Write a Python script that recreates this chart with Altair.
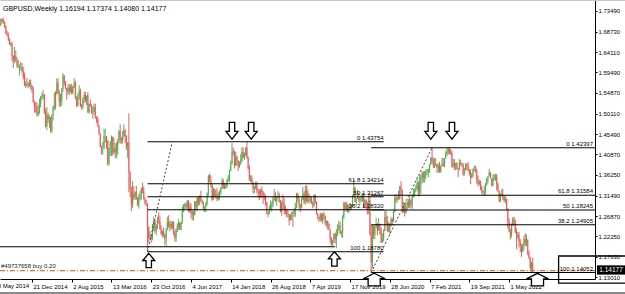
import altair as alt
import pandas as pd

FONT = "Liberation Sans"

# ---------------- weekly GBPUSD candles (close / high / low), weeks starting Sunday ----------------
START = "2014-06-15"
FIRST_OPEN = 1.6970

c2014 = [1.7015, 1.7035, 1.7155, 1.7105, 1.7090, 1.6980, 1.6830, 1.6795, 1.6700, 1.6590, 1.6595, 1.6320, 1.6240, 1.6315, 1.6225, 1.6085, 1.6085, 1.6085, 1.6085, 1.5995, 1.5845, 1.5650, 1.5680, 1.5640, 1.5670, 1.5705, 1.5655, 1.5560, 1.5275]
h2014 = [1.7060, 1.7065, 1.7180, 1.7170, 1.7190, 1.7110, 1.7015, 1.6890, 1.6855, 1.6720, 1.6640, 1.6645, 1.6340, 1.6525, 1.6450, 1.6290, 1.6225, 1.6130, 1.6180, 1.6160, 1.6070, 1.5945, 1.5750, 1.5825, 1.5730, 1.5785, 1.5785, 1.5660, 1.5620]
l2014 = [1.6925, 1.6955, 1.7005, 1.7075, 1.7050, 1.6960, 1.6815, 1.6770, 1.6660, 1.6570, 1.6535, 1.6200, 1.6050, 1.6160, 1.6190, 1.6050, 1.6040, 1.5875, 1.5990, 1.5940, 1.5790, 1.5640, 1.5590, 1.5625, 1.5590, 1.5620, 1.5565, 1.5485, 1.5265]

c2015 = [1.5170, 1.5160, 1.4985, 1.5060, 1.5240, 1.5390, 1.5395, 1.5440, 1.5030, 1.4730, 1.4995, 1.4885, 1.4930, 1.4630, 1.4990, 1.5175, 1.5155, 1.5465, 1.5715, 1.5475, 1.5285, 1.5315, 1.5575, 1.5880, 1.5740, 1.5585, 1.5510, 1.5600, 1.5515, 1.5615, 1.5485, 1.5640, 1.5700, 1.5380, 1.5185, 1.5425, 1.5535, 1.5195, 1.5180, 1.5345, 1.5435, 1.5305, 1.5425, 1.5045, 1.5225, 1.5185, 1.5045, 1.5075, 1.5160, 1.4915, 1.4890, 1.4735]
h2015 = [1.5305, 1.5270, 1.5270, 1.5205, 1.5350, 1.5415, 1.5485, 1.5550, 1.5450, 1.5130, 1.5165, 1.5035, 1.4975, 1.4935, 1.4995, 1.5195, 1.5495, 1.5525, 1.5815, 1.5815, 1.5540, 1.5465, 1.5595, 1.5930, 1.5885, 1.5755, 1.5595, 1.5675, 1.5690, 1.5675, 1.5690, 1.5640, 1.5820, 1.5755, 1.5405, 1.5475, 1.5660, 1.5580, 1.5235, 1.5385, 1.5510, 1.5510, 1.5425, 1.5505, 1.5245, 1.5335, 1.5225, 1.5175, 1.5240, 1.5240, 1.4955, 1.4945]
l2015 = [1.5035, 1.5035, 1.4950, 1.4950, 1.5005, 1.5155, 1.5325, 1.5340, 1.5005, 1.4700, 1.4635, 1.4800, 1.4690, 1.4585, 1.4566, 1.4855, 1.5090, 1.5105, 1.5450, 1.5455, 1.5170, 1.5170, 1.5190, 1.5510, 1.5655, 1.5565, 1.5330, 1.5435, 1.5435, 1.5485, 1.5445, 1.5455, 1.5590, 1.5335, 1.5160, 1.5175, 1.5330, 1.5160, 1.5105, 1.5110, 1.5250, 1.5275, 1.5205, 1.5025, 1.5015, 1.5175, 1.5005, 1.4895, 1.4995, 1.4895, 1.4805, 1.4710]

c2016 = [1.4560, 1.4255, 1.4235, 1.4245, 1.4500, 1.4500, 1.4405, 1.3875, 1.4225, 1.4375, 1.4490, 1.4130, 1.4225, 1.4145, 1.4205, 1.4395, 1.4615, 1.4445, 1.4415, 1.4490, 1.4635, 1.4515, 1.4255, 1.4350, 1.3680, 1.3300, 1.2950, 1.3190, 1.3110, 1.3235, 1.3115, 1.2945, 1.3075, 1.3160, 1.3310, 1.3270, 1.3065, 1.2975, 1.2970, 1.2430, 1.2190, 1.2225, 1.2190, 1.2480, 1.2590, 1.2355, 1.2480, 1.2585, 1.2570, 1.2395, 1.2280, 1.2340]
h2016 = [1.4745, 1.4560, 1.4285, 1.4370, 1.4670, 1.4670, 1.4470, 1.4410, 1.4235, 1.4395, 1.4515, 1.4460, 1.4460, 1.4345, 1.4355, 1.4440, 1.4640, 1.4770, 1.4475, 1.4620, 1.4770, 1.4665, 1.4520, 1.4365, 1.5020, 1.3705, 1.3350, 1.3480, 1.3370, 1.3250, 1.3370, 1.3115, 1.3185, 1.3260, 1.3335, 1.3445, 1.3355, 1.3115, 1.3055, 1.2975, 1.2455, 1.2345, 1.2255, 1.2510, 1.2675, 1.2590, 1.2500, 1.2675, 1.2775, 1.2705, 1.2475, 1.2365]
l2016 = [1.4530, 1.4250, 1.4080, 1.4090, 1.4195, 1.4350, 1.4210, 1.3835, 1.3836, 1.4055, 1.4050, 1.4060, 1.4100, 1.4005, 1.4000, 1.4070, 1.4340, 1.4330, 1.4330, 1.4335, 1.4485, 1.4355, 1.4185, 1.4010, 1.3230, 1.3120, 1.2800, 1.2870, 1.3055, 1.3055, 1.3055, 1.2910, 1.2855, 1.3055, 1.3055, 1.3205, 1.3060, 1.2945, 1.2915, 1.1878, 1.2085, 1.2165, 1.2080, 1.2135, 1.2350, 1.2305, 1.2250, 1.2390, 1.2515, 1.2375, 1.2250, 1.2200]

c2017 = [1.2265, 1.2180, 1.2370, 1.2550, 1.2475, 1.2505, 1.2415, 1.2550, 1.2280, 1.2195, 1.2395, 1.2470, 1.2545, 1.2385, 1.2555, 1.2810, 1.2950, 1.2960, 1.2885, 1.3030, 1.2805, 1.2885, 1.2745, 1.2780, 1.2715, 1.3025, 1.2885, 1.3095, 1.2995, 1.3135, 1.3040, 1.3010, 1.2875, 1.2905, 1.2970, 1.3200, 1.3605, 1.3490, 1.3400, 1.3060, 1.3285, 1.3195, 1.3130, 1.3075, 1.3190, 1.3230, 1.3320, 1.3480, 1.3375, 1.3330, 1.3370, 1.3505]
h2017 = [1.2430, 1.2280, 1.2415, 1.2675, 1.2705, 1.2580, 1.2580, 1.2570, 1.2570, 1.2350, 1.2405, 1.2520, 1.2615, 1.2545, 1.2560, 1.2905, 1.2960, 1.2990, 1.2990, 1.3050, 1.3050, 1.2975, 1.2980, 1.2815, 1.2815, 1.3030, 1.3030, 1.3125, 1.3125, 1.3160, 1.3265, 1.3060, 1.3010, 1.2910, 1.3005, 1.3225, 1.3620, 1.3655, 1.3610, 1.3405, 1.3340, 1.3310, 1.3285, 1.3320, 1.3225, 1.3270, 1.3345, 1.3550, 1.3530, 1.3445, 1.3415, 1.3525]
l2017 = [1.2200, 1.2035, 1.1986, 1.2385, 1.2420, 1.2345, 1.2385, 1.2385, 1.2255, 1.2110, 1.2105, 1.2325, 1.2375, 1.2365, 1.2370, 1.2510, 1.2780, 1.2840, 1.2845, 1.2845, 1.2775, 1.2765, 1.2635, 1.2590, 1.2590, 1.2700, 1.2810, 1.2810, 1.2930, 1.2930, 1.3010, 1.2955, 1.2810, 1.2775, 1.2775, 1.2925, 1.3145, 1.3455, 1.3340, 1.3025, 1.3060, 1.3125, 1.3080, 1.3025, 1.3040, 1.3060, 1.3165, 1.3300, 1.3300, 1.3300, 1.3300, 1.3335]

c2018 = [1.3565, 1.3725, 1.3865, 1.4155, 1.4130, 1.3825, 1.4030, 1.3955, 1.3810, 1.3860, 1.3940, 1.4140, 1.4010, 1.4090, 1.4240, 1.4010, 1.3770, 1.3530, 1.3545, 1.3460, 1.3310, 1.3350, 1.3415, 1.3270, 1.3265, 1.3195, 1.3285, 1.3235, 1.3140, 1.3110, 1.3005, 1.2765, 1.2735, 1.2835, 1.2880, 1.2955, 1.3070, 1.3080, 1.3035, 1.3125, 1.3155, 1.3005, 1.2795, 1.2995, 1.2970, 1.2835, 1.2800, 1.2745, 1.2735, 1.2585, 1.2715, 1.2755]
h2018 = [1.3615, 1.3745, 1.3945, 1.4345, 1.4240, 1.4170, 1.4145, 1.4065, 1.3930, 1.3930, 1.4090, 1.4245, 1.4245, 1.4130, 1.4255, 1.4377, 1.4040, 1.3840, 1.3620, 1.3610, 1.3455, 1.3365, 1.3470, 1.3470, 1.3315, 1.3290, 1.3300, 1.3365, 1.3260, 1.3215, 1.3170, 1.3005, 1.2780, 1.2930, 1.3045, 1.3000, 1.3145, 1.3300, 1.3225, 1.3135, 1.3255, 1.3215, 1.3055, 1.3040, 1.3175, 1.3090, 1.2925, 1.2845, 1.2840, 1.2670, 1.2725, 1.2785]
l2018 = [1.3465, 1.3460, 1.3705, 1.3860, 1.4065, 1.3765, 1.3825, 1.3840, 1.3710, 1.3785, 1.3860, 1.3920, 1.4000, 1.3960, 1.4050, 1.3990, 1.3740, 1.3485, 1.3460, 1.3405, 1.3205, 1.3205, 1.3295, 1.3205, 1.3100, 1.3050, 1.3100, 1.3100, 1.2960, 1.3045, 1.2920, 1.2730, 1.2662, 1.2725, 1.2830, 1.2785, 1.2900, 1.3040, 1.3005, 1.2920, 1.3090, 1.3000, 1.2770, 1.2695, 1.2830, 1.2725, 1.2720, 1.2660, 1.2660, 1.2475, 1.2595, 1.2600]

c2019 = [1.2740, 1.2840, 1.2880, 1.3195, 1.3075, 1.2940, 1.2885, 1.3050, 1.3195, 1.3010, 1.3265, 1.3210, 1.3030, 1.3055, 1.3090, 1.2970, 1.2925, 1.3175, 1.3005, 1.2725, 1.2670, 1.2625, 1.2730, 1.2585, 1.2735, 1.2695, 1.2535, 1.2575, 1.2500, 1.2375, 1.2165, 1.2030, 1.2140, 1.2285, 1.2160, 1.2290, 1.2435, 1.2465, 1.2290, 1.2330, 1.2670, 1.2985, 1.2835, 1.2935, 1.2770, 1.2900, 1.2830, 1.2935, 1.3150, 1.3330, 1.3010, 1.3075, 1.3090]
h2019 = [1.2795, 1.2865, 1.2990, 1.3215, 1.3215, 1.3135, 1.2960, 1.3110, 1.3350, 1.3245, 1.3380, 1.3385, 1.3285, 1.3200, 1.3155, 1.3120, 1.3020, 1.3175, 1.3175, 1.3020, 1.2755, 1.2660, 1.2765, 1.2760, 1.2750, 1.2785, 1.2700, 1.2590, 1.2580, 1.2525, 1.2385, 1.2210, 1.2155, 1.2295, 1.2310, 1.2385, 1.2500, 1.2585, 1.2560, 1.2355, 1.2710, 1.3015, 1.3010, 1.3010, 1.2975, 1.2930, 1.2985, 1.2950, 1.3175, 1.3515, 1.3350, 1.3085, 1.3285]
l2019 = [1.2440, 1.2670, 1.2670, 1.2865, 1.3005, 1.2855, 1.2775, 1.2855, 1.3050, 1.2960, 1.2945, 1.3000, 1.2975, 1.2975, 1.2990, 1.2960, 1.2865, 1.2885, 1.2965, 1.2725, 1.2605, 1.2555, 1.2560, 1.2560, 1.2505, 1.2605, 1.2475, 1.2440, 1.2380, 1.2370, 1.2080, 1.2015, 1.2015, 1.2075, 1.2070, 1.1959, 1.2235, 1.2360, 1.2280, 1.2205, 1.2195, 1.2630, 1.2785, 1.2815, 1.2770, 1.2770, 1.2825, 1.2820, 1.2900, 1.3105, 1.2995, 1.2905, 1.3075]

c2020 = [1.3060, 1.3075, 1.3080, 1.3205, 1.2895, 1.3045, 1.2960, 1.2815, 1.3045, 1.2275, 1.1635, 1.2455, 1.2275, 1.2450, 1.2505, 1.2365, 1.2495, 1.2410, 1.2095, 1.2165, 1.2350, 1.2665, 1.2565, 1.2350, 1.2335, 1.2485, 1.2615, 1.2565, 1.2790, 1.3095, 1.3060, 1.3090, 1.3085, 1.3350, 1.3280, 1.2790, 1.2915, 1.2750, 1.2940, 1.3000, 1.2915, 1.3040, 1.2945, 1.3150, 1.3200, 1.3300, 1.3320, 1.3440, 1.3225, 1.3515, 1.3555, 1.3670]
h2020 = [1.3215, 1.3120, 1.3175, 1.3210, 1.3210, 1.3070, 1.3070, 1.3010, 1.3200, 1.3200, 1.2485, 1.2485, 1.2485, 1.2475, 1.2650, 1.2525, 1.2645, 1.2515, 1.2375, 1.2295, 1.2385, 1.2815, 1.2815, 1.2690, 1.2545, 1.2535, 1.2670, 1.2650, 1.2810, 1.3170, 1.3185, 1.3145, 1.3265, 1.3375, 1.3480, 1.3285, 1.3005, 1.2980, 1.2975, 1.3040, 1.3080, 1.3175, 1.3070, 1.3175, 1.3310, 1.3310, 1.3400, 1.3540, 1.3470, 1.3625, 1.3625, 1.3705]
l2020 = [1.3000, 1.2955, 1.3010, 1.3010, 1.2870, 1.2870, 1.2850, 1.2725, 1.2725, 1.2255, 1.14052, 1.1500, 1.2165, 1.2165, 1.2405, 1.2245, 1.2350, 1.2265, 1.2075, 1.2075, 1.2115, 1.2345, 1.2475, 1.2335, 1.2330, 1.2255, 1.2450, 1.2480, 1.2555, 1.2775, 1.2980, 1.3000, 1.3060, 1.3060, 1.3165, 1.2760, 1.2765, 1.2675, 1.2755, 1.2825, 1.2865, 1.2865, 1.2855, 1.2855, 1.3105, 1.3120, 1.3230, 1.3280, 1.3135, 1.3135, 1.3190, 1.3425]

c2021 = [1.3565, 1.3585, 1.3690, 1.3700, 1.3740, 1.3850, 1.4015, 1.3925, 1.3830, 1.3865, 1.3870, 1.3790, 1.3830, 1.3700, 1.3835, 1.3875, 1.3815, 1.3995, 1.4090, 1.4150, 1.4215, 1.4150, 1.4110, 1.3805, 1.3880, 1.3830, 1.3890, 1.3760, 1.3745, 1.3900, 1.3875, 1.3870, 1.3640, 1.3760, 1.3865, 1.3835, 1.3725, 1.3670, 1.3550, 1.3610, 1.3745, 1.3745, 1.3675, 1.3500, 1.3415, 1.3455, 1.3335, 1.3255, 1.3225, 1.3240, 1.3405, 1.3530]
h2021 = [1.3705, 1.3710, 1.3745, 1.3760, 1.3760, 1.3865, 1.4020, 1.4241, 1.4015, 1.4005, 1.4000, 1.3880, 1.3885, 1.3920, 1.3835, 1.4010, 1.4005, 1.4005, 1.4165, 1.4235, 1.4220, 1.4250, 1.4200, 1.4175, 1.3985, 1.3980, 1.3900, 1.3910, 1.3790, 1.3985, 1.3955, 1.3890, 1.3890, 1.3785, 1.3890, 1.3890, 1.3915, 1.3750, 1.3750, 1.3665, 1.3775, 1.3835, 1.3825, 1.3765, 1.3605, 1.3515, 1.3495, 1.3375, 1.3270, 1.3375, 1.3440, 1.3550]
l2021 = [1.3450, 1.3450, 1.3520, 1.3625, 1.3565, 1.3665, 1.3855, 1.3885, 1.3780, 1.3775, 1.3815, 1.3670, 1.3675, 1.3670, 1.3665, 1.3825, 1.3800, 1.3800, 1.3995, 1.4050, 1.4085, 1.4085, 1.4075, 1.3790, 1.3785, 1.3730, 1.3730, 1.3750, 1.3570, 1.3725, 1.3835, 1.3800, 1.3600, 1.3605, 1.3725, 1.3725, 1.3710, 1.3610, 1.3410, 1.3545, 1.3570, 1.3710, 1.3670, 1.3425, 1.3355, 1.3385, 1.3280, 1.3195, 1.3160, 1.3160, 1.3175, 1.3380]

c2022 = [1.3590, 1.3675, 1.3550, 1.3395, 1.3530, 1.3555, 1.3590, 1.3410, 1.3255, 1.3035, 1.3180, 1.3185, 1.3115, 1.3035, 1.3065, 1.2840, 1.2575, 1.2335, 1.2265, 1.2490, 1.2625, 1.2490, 1.2310, 1.2215, 1.2260, 1.2095, 1.2025, 1.1875, 1.2005, 1.2165, 1.2075, 1.2135, 1.1830, 1.1735, 1.1510, 1.16194, 1.14177]
h2022 = [1.3600, 1.3750, 1.3690, 1.3550, 1.3630, 1.3645, 1.3645, 1.3645, 1.3440, 1.3265, 1.3210, 1.3300, 1.3300, 1.3165, 1.3145, 1.3090, 1.2865, 1.2640, 1.2405, 1.2525, 1.2665, 1.2665, 1.2600, 1.2405, 1.2325, 1.2330, 1.2165, 1.2050, 1.2065, 1.2245, 1.2295, 1.2275, 1.2170, 1.1900, 1.1760, 1.1650, 1.17374]
l2022 = [1.3430, 1.3590, 1.3545, 1.3355, 1.3360, 1.3490, 1.3485, 1.3275, 1.3240, 1.3000, 1.3000, 1.3135, 1.3050, 1.3010, 1.2975, 1.2835, 1.2410, 1.2325, 1.2155, 1.2200, 1.2470, 1.2460, 1.2305, 1.1935, 1.2160, 1.1975, 1.1875, 1.1760, 1.1890, 1.1915, 1.2005, 1.2005, 1.1805, 1.1715, 1.1445, 1.1405, 1.14080]

# ---------------- annotation values ----------------
x_tick_dates = ["2014-05-18", "2014-12-21", "2015-08-02", "2016-03-13", "2016-10-23", "2017-06-04",
                "2018-01-14", "2018-08-26", "2019-04-07", "2019-11-17", "2020-06-28", "2021-02-07",
                "2021-09-19", "2022-05-01"]
y_ticks = [1.13010, 1.17630, 1.22250, 1.26870, 1.31490, 1.36250, 1.40870, 1.45490, 1.50110,
           1.54870, 1.59490, 1.64110, 1.68730, 1.73490]

fib_names = ["0", "61.8", "50", "38.2", "100"]
fib1_prices = [1.43754, 1.34214, 1.31267, 1.28320, 1.18780]
fib2_prices = [1.42397, 1.31584, 1.28245, 1.24905, 1.14052]
fib1_span = ["2016-10-02", "2020-05-24"]
fib1_trend = [("2016-10-02", 1.18780), ("2017-02-19", 1.43754)]
fib2_span = ["2020-03-15", "2023-08-28"]
fib2_trend = [("2020-03-15", 1.14052), ("2021-02-21", 1.42397)]

support_price = 1.1990
support_span = ["2014-06-01", "2019-08-25"]
order_price = 1.1450
order_text = "#49737658 buy 0.20"

down_arrow_dates = ["2018-01-21", "2018-05-09", "2021-02-14", "2021-06-13"]
down_arrow_price = 1.4432
up_arrow_dates = ["2016-10-09", "2019-08-21"]
up_arrow_prices = [1.1842, 1.1878]
big_arrow_dates = ["2020-04-01", "2022-10-08"]
big_arrow_prices = [1.1390, 1.1388]

box_span = ["2023-02-04", "2024-02-20"]
box_prices = [1.1781, 1.1165]

title_text = "GBPUSD,Weekly  1.16194 1.17374 1.14080 1.14177"
last_price = 1.14177

X_DOMAIN = ["2014-06-24", "2023-08-28"]
Y_DOMAIN = [1.12585, 1.75922]

# ---------------- build tables ----------------
closes = c2014 + c2015 + c2016 + c2017 + c2018 + c2019 + c2020 + c2021 + c2022
highs = h2014 + h2015 + h2016 + h2017 + h2018 + h2019 + h2020 + h2021 + h2022
lows = l2014 + l2015 + l2016 + l2017 + l2018 + l2019 + l2020 + l2021 + l2022
assert len(closes) == len(highs) == len(lows)

dates = pd.date_range(START, periods=len(closes), freq="7D")
opens = [FIRST_OPEN] + closes[:-1]
candles = pd.DataFrame({
    "date": dates.strftime("%Y-%m-%d"),
    "open": opens,
    "close": closes,
    "high": [max(h, o, c) for h, o, c in zip(highs, opens, closes)],
    "low": [min(l, o, c) for l, o, c in zip(lows, opens, closes)],
})
candles["dir"] = ["up" if c >= o else "down" for o, c in zip(opens, closes)]


def ms(d):
    return int(pd.Timestamp(d).value // 10**6)


xs = alt.Scale(type="utc", domain=[ms(d) for d in X_DOMAIN])
ys = alt.Scale(domain=Y_DOMAIN, nice=False, zero=False)

xaxis = alt.Axis(values=[ms(d) for d in x_tick_dates[1:]], format="%-d %b %Y", labelAlign="left",
                 labelBaseline="top", labelFontSize=6, labelFont=FONT, labelColor="black",
                 labelPadding=1, labelOffset=1, tickSize=3, tickColor="black", domainColor="black",
                 grid=False, title=None, labelOverlap=False, labelFlush=False, labelBound=False)
yaxis = alt.Axis(orient="right", values=y_ticks, format=".5f", labelFontSize=6, labelFont=FONT,
                 labelColor="black", labelAlign="left", labelBaseline="middle", labelPadding=1,
                 tickSize=2, tickColor="black", domainColor="black", grid=False, title=None,
                 labelOverlap=False, labelFlush=False, labelBound=False)


def X(f="date"):
    return alt.X(f"{f}:T", scale=xs, axis=xaxis)


def Y(f):
    return alt.Y(f"{f}:Q", scale=ys, axis=yaxis)


dir_color = alt.Color("dir:N", scale=alt.Scale(domain=["up", "down"], range=["#3ca53c", "#ee4242"]),
                      legend=None)

wick = alt.Chart(candles).mark_rule(strokeWidth=1, opacity=0.85).encode(
    x=X(), y=Y("low"), y2="high:Q", color=dir_color)
body = alt.Chart(candles).mark_rule(strokeWidth=1.5, opacity=0.45).encode(
    x=X(), y=Y("open"), y2="close:Q", color=dir_color)

# first (partly hidden) x tick label, left of the plot edge
first_label = alt.Chart(pd.DataFrame({"date": [x_tick_dates[0]], "t": ["18 May 2014"]})).mark_text(
    align="left", baseline="top", dx=1, fontSize=6, font=FONT, color="black").encode(
    x=X(), y=alt.value(283), text="t:N")

fib1 = pd.DataFrame({"date": fib1_span[0], "end": fib1_span[1], "p": fib1_prices,
                     "t": [f"{n}  {p:.5f}" for n, p in zip(fib_names, fib1_prices)]})
fib2 = pd.DataFrame({"date": fib2_span[0], "end": fib2_span[1], "p": fib2_prices,
                     "t": [f"{n}  {p:.5f}" for n, p in zip(fib_names, fib2_prices)]})

fib_lines = alt.layer(
    alt.Chart(fib1).mark_rule(color="black", strokeWidth=1.1).encode(x=X(), x2="end:T", y=Y("p")),
    alt.Chart(fib2).mark_rule(color="black", strokeWidth=1.1).encode(x=X(), x2="end:T", y=Y("p")),
)
fib_text = alt.layer(
    alt.Chart(fib1).mark_text(align="right", baseline="bottom", dy=-1, fontSize=6, font=FONT,
                              color="black").encode(x=X("end"), y=Y("p"), text="t:N"),
    alt.Chart(fib2).mark_text(align="right", baseline="bottom", dy=-1, dx=-2, fontSize=6, font=FONT,
                              color="black").encode(x=X("end"), y=Y("p"), text="t:N"),
)

trend = pd.DataFrame({
    "date": [fib1_trend[0][0], fib2_trend[0][0]], "d2": [fib1_trend[1][0], fib2_trend[1][0]],
    "p": [fib1_trend[0][1], fib2_trend[0][1]], "p2": [fib1_trend[1][1], fib2_trend[1][1]],
})
trend_lines = alt.Chart(trend).mark_rule(color="#444444", strokeWidth=1, strokeDash=[2, 2]).encode(
    x=X(), x2="d2:T", y=Y("p"), y2="p2:Q")

support = alt.Chart(pd.DataFrame({"date": [support_span[0]], "end": [support_span[1]], "p": [support_price]})
                    ).mark_rule(color="black", strokeWidth=1.1).encode(x=X(), x2="end:T", y=Y("p"))

order = pd.DataFrame({"date": [X_DOMAIN[0]], "end": [X_DOMAIN[1]], "p": [order_price], "t": [order_text]})
order_line = alt.Chart(order).mark_rule(color="#f26a3c", strokeWidth=1.3, strokeDash=[5, 2, 1, 2]).encode(
    x=X(), x2="end:T", y=Y("p"))
order_label = alt.Chart(order).mark_text(align="left", baseline="bottom", dx=1, dy=-2, fontSize=6,
                                         font=FONT, color="#222222").encode(x=X(), y=Y("p"), text="t:N")

DOWN = "M0,0 L-1,-1.3 L-0.45,-1.3 L-0.45,-2.8 L0.45,-2.8 L0.45,-1.3 L1,-1.3 Z"
UP = "M0,0 L1,1.2 L0.45,1.2 L0.45,2.4 L-0.45,2.4 L-0.45,1.2 L-1,1.2 Z"
BIGUP = "M0,0 L1,0.5 L0.55,0.5 L0.55,1.15 L-0.55,1.15 L-0.55,0.5 L-1,0.5 Z"

arrows_down = alt.Chart(pd.DataFrame({"date": down_arrow_dates, "p": down_arrow_price})).mark_point(
    shape=DOWN, size=144, filled=True, fill="white", stroke="black", strokeWidth=1.3, opacity=1
).encode(x=X(), y=Y("p"))
arrows_up = alt.Chart(pd.DataFrame({"date": up_arrow_dates, "p": up_arrow_prices})).mark_point(
    shape=UP, size=144, filled=True, fill="white", stroke="black", strokeWidth=1.3, opacity=1
).encode(x=X(), y=Y("p"))
arrows_big = alt.Chart(pd.DataFrame({"date": big_arrow_dates, "p": big_arrow_prices})).mark_point(
    shape=BIGUP, size=484, filled=True, fill="white", stroke="black", strokeWidth=1.3, opacity=1
).encode(x=X(), y=Y("p"))

box = alt.Chart(pd.DataFrame({"date": [box_span[0]], "end": [box_span[1]],
                              "p": [box_prices[0]], "p2": [box_prices[1]]})).mark_rect(
    fillOpacity=0, stroke="black", strokeWidth=1.3).encode(x=X(), x2="end:T", y=Y("p"), y2="p2:Q")

lp = pd.DataFrame({"p": [last_price], "t": [f"{last_price:.5f}"]})
price_box = alt.Chart(lp).mark_point(
    shape="M-1,-0.33 L1,-0.33 L1,0.33 L-1,0.33 Z", size=784, filled=True, color="black", opacity=1,
    yOffset=-2).encode(x=alt.value(611), y=Y("p"))
price_text = alt.Chart(lp).mark_text(color="white", fontSize=6.5, font=FONT, align="center",
                                     baseline="middle", dy=-2).encode(x=alt.value(611), y=Y("p"), text="t:N")

title = alt.Chart(pd.DataFrame({"t": [title_text]})).mark_text(
    align="left", baseline="middle", fontSize=7, font=FONT, color="black").encode(
    x=alt.value(3), y=alt.value(9), text="t:N")

top_line = alt.Chart(pd.DataFrame({"k": [0]})).mark_rule(color="#c8c8c8", strokeWidth=1).encode(
    x=alt.value(0), x2=alt.value(625), y=alt.value(0.5))
bottom_line = alt.Chart(pd.DataFrame({"k": [0]})).mark_rule(color="#8a8a8a", strokeWidth=2).encode(
    x=alt.value(0), x2=alt.value(625), y=alt.value(293))

chart = alt.layer(
    wick, body, support, fib_lines, trend_lines, order_line, order_label, fib_text, first_label,
    arrows_down, arrows_up, arrows_big, box, price_box, price_text, title, top_line, bottom_line,
).properties(
    width=595, height=279,
    autosize=alt.AutoSizeParams(type="none"),
    padding={"left": 0, "top": 0, "right": 30, "bottom": 15},
    background="white",
).configure_view(stroke=None)

chart.save("out.html", embed_options={"renderer": "svg", "actions": False})
